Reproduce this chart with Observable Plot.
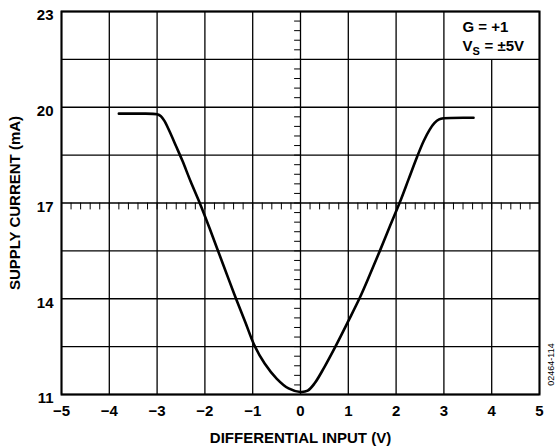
<!DOCTYPE html>
<html>
<head>
<meta charset="utf-8">
<script src="https://cdn.jsdelivr.net/npm/d3@7"></script>
<script src="https://cdn.jsdelivr.net/npm/@observablehq/plot@0.6"></script>
<style>
  html, body { margin: 0; padding: 0; background: #fff; }
  #chart { width: 558px; height: 448px; }
</style>
</head>
<body>
<div id="chart"></div>
<script>
// Curve data
const inputV = [-3.8, -3.4, -3.0, -2.92, -2.85, -2.75, -2.6, -2.47, -2.3, -2.1, -1.9, -1.75, -1.5, -1.33, -1.15, -0.97, -0.75, -0.5, -0.25, 0, 0.15, 0.3, 0.5, 0.73, 1.0, 1.24, 1.45, 1.66, 1.87, 2.08, 2.26, 2.44, 2.58, 2.7, 2.8, 2.9, 3.0, 3.62];
const supplyMA = [19.8, 19.8, 19.78, 19.72, 19.58, 19.28, 18.77, 18.32, 17.68, 16.97, 16.2, 15.6, 14.6, 13.93, 13.25, 12.56, 11.97, 11.5, 11.19, 11.08, 11.12, 11.36, 11.86, 12.5, 13.3, 14.03, 14.75, 15.5, 16.27, 17.03, 17.74, 18.45, 18.95, 19.29, 19.5, 19.62, 19.655, 19.67];

// Axes / grid
const xTicks = [-5, -4, -3, -2, -1, 0, 1, 2, 3, 4, 5];
const yLabels = [11, 14, 17, 20, 23];
const yGrid = [11, 12.5, 14, 15.5, 17, 18.5, 20, 21.5, 23];
const xMinor = d3.range(-50, 51, 2).map(d => d / 10);   // every 0.2 V on the 17 mA line
const yMinor = d3.range(110, 231, 3).map(d => d / 10);  // every 0.3 mA on the 0 V line
const noteCellX = 4;      // grid line interrupted by the annotation box
const noteCellTop = 21.5; // annotation box bottom grid line

const xTitle = "DIFFERENTIAL INPUT (V)";
const yTitle = "SUPPLY CURRENT (mA)";
const noteG = "G = +1";
const noteV = "V";
const noteSub = "S";
const noteVs = "= ±5V";
const figId = "02464-114";

const data = inputV.map((x, i) => ({x, y: supplyMA[i]}));

const tickShape = {draw(context, l) { context.moveTo(0, -l / 2); context.lineTo(0, l / 2); }};

const chart = Plot.plot({
  width: 558,
  height: 448,
  marginLeft: 61,
  marginRight: 19,
  marginTop: 11,
  marginBottom: 54,
  style: {fontFamily: "'Liberation Sans', Arial, sans-serif", color: "#000", background: "#fff", overflow: "visible"},
  x: {domain: [-5, 5]},
  y: {domain: [11, 23]},
  marks: [
    Plot.ruleX(xTicks, {x: d => d, y1: () => 11, y2: d => d === noteCellX ? noteCellTop : 23, stroke: "#000", strokeWidth: 1.3}),
    Plot.ruleY(yGrid, {stroke: "#000", strokeWidth: 1.3}),
    Plot.vector(xMinor, {x: d => d, y: () => 17, length: 6, rotate: 0, anchor: "middle", shape: tickShape, stroke: "#000", strokeWidth: 1}),
    Plot.vector(yMinor, {x: () => 0, y: d => d, length: 6, rotate: 90, anchor: "middle", shape: tickShape, stroke: "#000", strokeWidth: 1}),
    Plot.frame({stroke: "#000", strokeWidth: 2}),
    Plot.line(data, {x: "x", y: "y", curve: "catmull-rom", stroke: "#000", strokeWidth: 2.6}),
    Plot.axisX({ticks: xTicks, tickSize: 0, tickPadding: 11, fontSize: 15, fontWeight: "bold", label: null}),
    Plot.axisY({ticks: yLabels, tickSize: 0, tickPadding: 8, fontSize: 15, fontWeight: "bold", dy: 4, label: null}),
    Plot.text([xTitle], {frameAnchor: "bottom", dy: 44, textAnchor: "middle", fontSize: 15, fontWeight: "bold", lineAnchor: "middle"}),
    Plot.text([yTitle], {frameAnchor: "left", dx: -46, rotate: -90, textAnchor: "middle", fontSize: 15, fontWeight: "bold", lineAnchor: "middle"}),
    Plot.text([noteG], {frameAnchor: "top-right", dx: -77, dy: 15.5, textAnchor: "start", lineAnchor: "middle", fontSize: 15, fontWeight: "bold"}),
    Plot.text([noteV], {frameAnchor: "top-right", dx: -77, dy: 34.5, textAnchor: "start", lineAnchor: "middle", fontSize: 15, fontWeight: "bold"}),
    Plot.text([noteSub], {frameAnchor: "top-right", dx: -67, dy: 39.5, textAnchor: "start", lineAnchor: "middle", fontSize: 11, fontWeight: "bold"}),
    Plot.text([noteVs], {frameAnchor: "top-right", dx: -55, dy: 34.5, textAnchor: "start", lineAnchor: "middle", fontSize: 15, fontWeight: "bold"}),
    Plot.text([figId], {frameAnchor: "bottom-right", dx: 12, dy: -30, rotate: -90, textAnchor: "middle", lineAnchor: "middle", fontSize: 9})
  ]
});
document.getElementById("chart").appendChild(chart);
</script>
</body>
</html>
